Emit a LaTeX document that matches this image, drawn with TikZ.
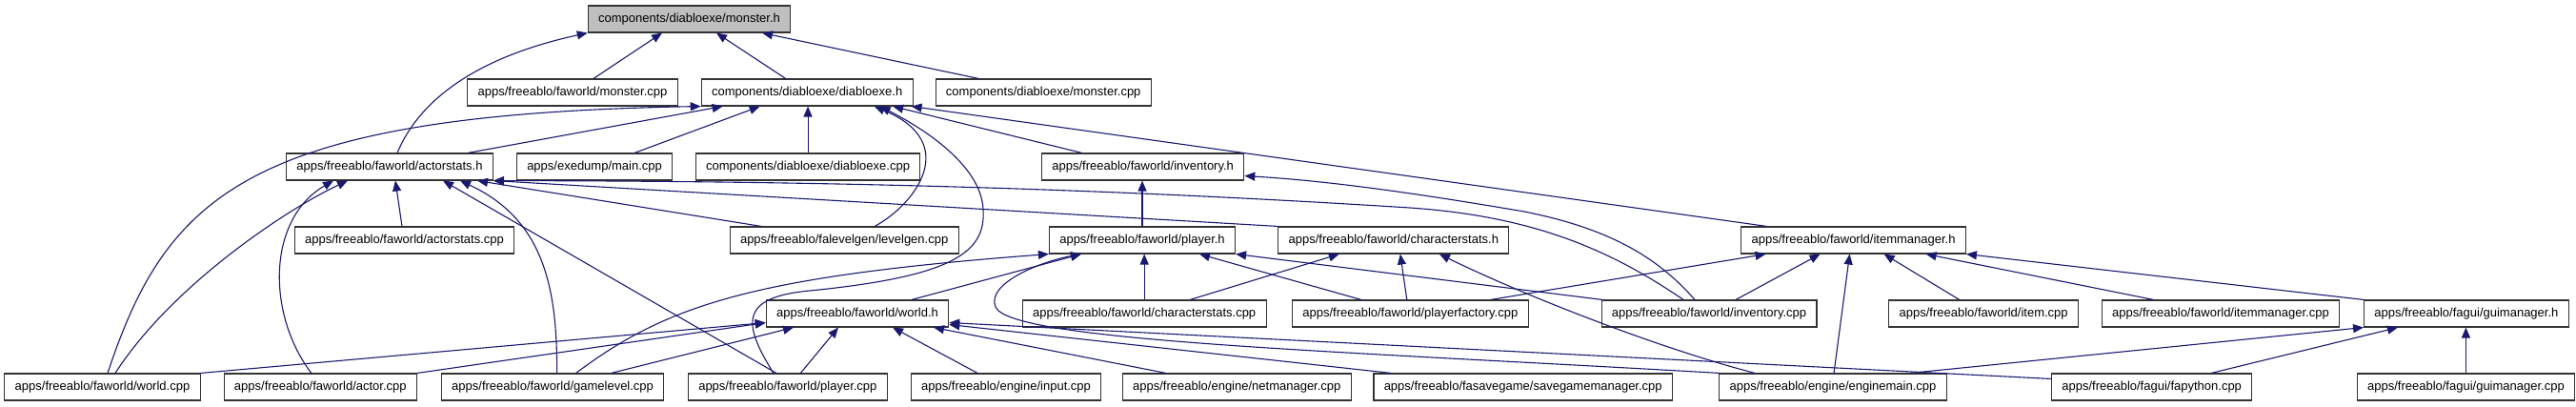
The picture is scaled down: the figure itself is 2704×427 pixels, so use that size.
\documentclass[tikz,border=0pt]{standalone}
\usepackage{fontspec}
\setmainfont{Liberation Sans}
\usepackage{xcolor}
\usepackage{tikz}
\usetikzlibrary{arrows.meta,positioning}
\definecolor{midnight}{RGB}{25,25,112}

\begin{document}
\begin{tikzpicture}[x=1pt,y=-1pt,
  incl/.style={draw=black!80,line width=1.1pt,fill=white,font=\fontsize{13}{15}\selectfont,minimum height=28pt,inner xsep=10.8pt,inner ysep=0pt},
  root/.style={incl,fill=black!25},
  dep/.style={-{Triangle[length=11pt,width=9pt]},draw=midnight,line width=1.1pt}
]
\useasboundingbox (0,0) rectangle (2704,427);
\node[root] (monsterh) at (723.5,20) {components/diabloexe/monster.h};
\node[incl] (fwmonstercpp) at (601,97) {apps/freeablo/faworld/monster.cpp};
\node[incl,right=24pt of fwmonstercpp] (diabloexeh) {components/diabloexe/diabloexe.h};
\node[incl,right=23pt of diabloexeh] (cdmonstercpp) {components/diabloexe/monster.cpp};
\node[incl] (actorstatsh) at (409,175) {apps/freeablo/faworld/actorstats.h};
\node[incl,right=24pt of actorstatsh] (maincpp) {apps/exedump/main.cpp};
\node[incl,right=23.5pt of maincpp] (diabloexecpp) {components/diabloexe/diabloexe.cpp};
\node[incl,right=126.7pt of diabloexecpp] (inventoryh) {apps/freeablo/faworld/inventory.h};
\node[incl] (actorstatscpp) at (424.5,252) {apps/freeablo/faworld/actorstats.cpp};
\node[incl,right=225.4pt of actorstatscpp] (levelgencpp) {apps/freeablo/falevelgen/levelgen.cpp};
\node[incl,right=94.3pt of levelgencpp] (playerh) {apps/freeablo/faworld/player.h};
\node[incl,right=44.2pt of playerh] (characterstatsh) {apps/freeablo/faworld/characterstats.h};
\node[incl,right=242.9pt of characterstatsh] (itemmanagerh) {apps/freeablo/faworld/itemmanager.h};
\node[incl] (worldh) at (900,329) {apps/freeablo/faworld/world.h};
\node[incl,right=76.5pt of worldh] (characterstatscpp) {apps/freeablo/faworld/characterstats.cpp};
\node[incl,right=26.4pt of characterstatscpp] (playerfactorycpp) {apps/freeablo/faworld/playerfactory.cpp};
\node[incl,right=75.9pt of playerfactorycpp] (inventorycpp) {apps/freeablo/faworld/inventory.cpp};
\node[incl,right=74.8pt of inventorycpp] (itemcpp) {apps/freeablo/faworld/item.cpp};
\node[incl,right=23.8pt of itemcpp] (itemmanagercpp) {apps/freeablo/faworld/itemmanager.cpp};
\node[incl,right=24.9pt of itemmanagercpp] (guimanagerh) {apps/freeablo/fagui/guimanager.h};
\node[incl] (worldcpp) at (107.5,406) {apps/freeablo/faworld/world.cpp};
\node[incl,right=24pt of worldcpp] (actorcpp) {apps/freeablo/faworld/actor.cpp};
\node[incl,right=24.9pt of actorcpp] (gamelevelcpp) {apps/freeablo/faworld/gamelevel.cpp};
\node[incl,right=24.6pt of gamelevelcpp] (playercpp) {apps/freeablo/faworld/player.cpp};
\node[incl,right=24pt of playercpp] (inputcpp) {apps/freeablo/engine/input.cpp};
\node[incl,right=21.5pt of inputcpp] (netmanagercpp) {apps/freeablo/engine/netmanager.cpp};
\node[incl,right=22.6pt of netmanagercpp] (savegamemanagercpp) {apps/freeablo/fasavegame/savegamemanager.cpp};
\node[incl,right=48.2pt of savegamemanagercpp] (enginemaincpp) {apps/freeablo/engine/enginemain.cpp};
\node[incl,right=109.2pt of enginemaincpp] (fapythoncpp) {apps/freeablo/fagui/fapython.cpp};
\node[incl,right=109.4pt of fapythoncpp] (guimanagercpp) {apps/freeablo/fagui/guimanager.cpp};
\draw[dep] ([xshift=8pt]actorstatsh.north) .. controls (440,105) and (500,60) .. (monsterh.south west);
\draw[dep] ([xshift=22pt]fwmonstercpp.north) -- ([xshift=-28.5pt]monsterh.south);
\draw[dep] ([xshift=-22.5pt]diabloexeh.north) -- ([xshift=28.5pt]monsterh.south);
\draw[dep] ([xshift=-68pt]cdmonstercpp.north) -- ([xshift=76.5pt]monsterh.south);
\draw[dep] ([xshift=5.5pt]worldcpp.north) .. controls (175,205) and (260,120) .. (diabloexeh.south west);
\draw[dep] ([xshift=82pt]actorstatsh.north) -- ([xshift=-88.5pt]diabloexeh.south);
\draw[dep] ([xshift=42pt]maincpp.north) -- ([xshift=-49.5pt]diabloexeh.south);
\draw[dep] (diabloexecpp.north) -- (diabloexecpp.north |- diabloexeh.south);
\draw[dep] ([xshift=32pt]levelgencpp.north) .. controls (960,215) and (1010,150) .. ([xshift=70.5pt]diabloexeh.south);
\draw[dep] ([xshift=-15pt]playercpp.north) .. controls (780,340) and (775,312) .. (850,305) .. controls (1000,290) and (1035,265) .. (1032,220) .. controls (1030,170) and (960,130) .. ([xshift=76.5pt]diabloexeh.south);
\draw[dep] ([xshift=-64pt]inventoryh.north) -- ([xshift=90pt]diabloexeh.south);
\draw[dep] ([xshift=-91pt]itemmanagerh.north) -- ([xshift=-2pt]diabloexeh.south east);
\draw[dep] ([xshift=13.5pt]worldcpp.north) .. controls (180,300) and (300,220) .. ([xshift=-44pt]actorstatsh.south);
\draw[dep] ([xshift=-9.5pt]actorcpp.north) .. controls (280,330) and (280,230) .. ([xshift=-59pt]actorstatsh.south);
\draw[dep] ([xshift=-2.5pt]actorstatscpp.north) -- ([xshift=6pt]actorstatsh.south);
\draw[dep] ([xshift=-12pt]playercpp.north) -- ([xshift=56pt]actorstatsh.south);
\draw[dep] ([xshift=4.5pt]gamelevelcpp.north) .. controls (585,300) and (570,230) .. ([xshift=74pt]actorstatsh.south);
\draw[dep] ([xshift=-87pt]levelgencpp.north) -- ([xshift=92pt]actorstatsh.south);
\draw[dep] (characterstatsh.north west) -- (actorstatsh.south east);
\draw[dep] ([xshift=-27pt]inventorycpp.north) .. controls (1690,262) and (1610,227) .. (1480,218) .. controls (1100,194) and (800,190) .. (actorstatsh.south east);
\draw[dep] (playerh.north) -- (playerh.north |- inventoryh.south);
\draw[dep] ([xshift=-15pt]inventorycpp.north) .. controls (1740,270) and (1690,240) .. (1600,222) .. controls (1500,205) and (1400,190) .. ([yshift=5pt]inventoryh.south east);
\draw[dep] ([xshift=24.5pt]gamelevelcpp.north) .. controls (700,320) and (790,290) .. (playerh.south west);
\draw[dep] ([xshift=57pt]worldh.north) -- ([xshift=-64pt]playerh.south);
\draw[dep] (characterstatscpp.north) -- (characterstatscpp.north |- playerh.south);
\draw[dep] ([xshift=-51.5pt]playerfactorycpp.north) -- ([xshift=60pt]playerh.south);
\draw[dep] ([xshift=-112pt]inventorycpp.north) -- (playerh.south east);
\draw[dep] ([xshift=-119pt]enginemaincpp.north) .. controls (1400,368) and (1060,358) .. (1045,322) .. controls (1035,298) and (1090,275) .. ([xshift=-64pt]playerh.south);
\draw[dep] ([xshift=48pt]characterstatscpp.north) -- ([xshift=-57pt]characterstatsh.south);
\draw[dep] ([xshift=-3.5pt]playerfactorycpp.north) -- ([xshift=7pt]characterstatsh.south);
\draw[dep] ([xshift=-82pt]enginemaincpp.north) .. controls (1740,365) and (1600,310) .. ([xshift=48pt]characterstatsh.south);
\draw[dep] ([xshift=84.5pt]playerfactorycpp.north) -- ([xshift=-92pt]itemmanagerh.south);
\draw[dep] ([xshift=28pt]inventorycpp.north) -- ([xshift=-35pt]itemmanagerh.south);
\draw[dep] ([xshift=1pt]enginemaincpp.north) -- ([xshift=-4pt]itemmanagerh.south);
\draw[dep] ([xshift=-25.5pt]itemcpp.north) -- ([xshift=32pt]itemmanagerh.south);
\draw[dep] ([xshift=-70.5pt]itemmanagercpp.north) -- ([xshift=76pt]itemmanagerh.south);
\draw[dep] (guimanagerh.north west) -- (itemmanagerh.south east);
\draw[dep] ([xshift=81pt]enginemaincpp.north) -- (guimanagerh.south west);
\draw[dep] ([xshift=62.5pt]fapythoncpp.north) -- ([xshift=-72pt]guimanagerh.south);
\draw[dep] (guimanagercpp.north) -- (guimanagercpp.north |- guimanagerh.south);
\draw[dep] (worldcpp.north east) -- ([yshift=5pt]worldh.south west);
\draw[dep] (actorcpp.north east) -- ([yshift=5pt]worldh.south west);
\draw[dep] ([xshift=61.5pt]gamelevelcpp.north) -- ([xshift=-67pt]worldh.south);
\draw[dep] ([xshift=13.5pt]playercpp.north) -- ([xshift=-20pt]worldh.south);
\draw[dep] ([xshift=-30pt]inputcpp.north) -- ([xshift=37pt]worldh.south);
\draw[dep] ([xshift=-74.5pt]netmanagercpp.north) -- ([xshift=80pt]worldh.south);
\draw[dep] ([xshift=-138.5pt]savegamemanagercpp.north) -- ([yshift=3pt]worldh.south east);
\draw[dep] ([yshift=-6pt]fapythoncpp.north west) -- ([yshift=5pt]worldh.south east);
\end{tikzpicture}
\end{document}
